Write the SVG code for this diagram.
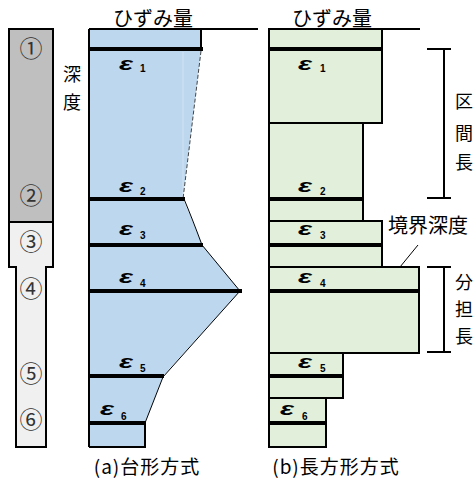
<svg xmlns="http://www.w3.org/2000/svg" width="473" height="478" viewBox="0 0 473 478">
<style>
.jp{font-family:"Noto Sans CJK JP","Noto Sans",sans-serif;fill:#000}
.eps{font-family:"Liberation Sans",Arial,sans-serif;font-weight:bold;font-style:italic;font-size:18px}
.sub{font-family:"Liberation Sans",Arial,sans-serif;font-weight:bold;font-size:10px}
.bar{stroke:#000;stroke-width:4;fill:none}
.edge{stroke:#000;stroke-width:2;fill:none}
.blue{fill:#bdd7ee}
.grn{fill:#e2efda;stroke:#000;stroke-width:2}
.thin{stroke:#000;stroke-width:1;fill:none}
.circ{font-family:"Noto Sans CJK JP",sans-serif;font-size:23px;fill:#333;text-anchor:middle}
</style>
<rect width="473" height="478" fill="#fff"/>

<!-- soil column -->
<g id="column">
  <polygon points="9,29 53,29 53,267 46,267 46,447 16,447 16,267 9,267" fill="#f0f0f0" stroke="#000" stroke-width="2"/>
  <rect x="9" y="29" width="44" height="193" fill="#bfbfbf" stroke="#000" stroke-width="2"/>
  <text class="circ" x="31" y="57">①</text>
  <text class="circ" x="31" y="204">②</text>
  <text class="circ" x="31" y="250">③</text>
  <text class="circ" x="31" y="297">④</text>
  <text class="circ" x="31" y="382">⑤</text>
  <text class="circ" x="31" y="428">⑥</text>
</g>

<!-- panel (a) -->
<g id="panel-a">
  <polygon class="blue" points="89,29 201,29 201,51 183,199 190,215 202,245 240,291 163,376 145,423 145,447 89,447"/>
  <line x1="183" y1="52" x2="183" y2="197" stroke="#d2e3f3" stroke-width="1"/>
  <line x1="89" y1="29" x2="258" y2="29" class="edge"/>
  <line x1="201" y1="29" x2="201" y2="49" class="edge"/>
  <line x1="89" y1="29" x2="89" y2="447" class="edge"/>
  <polyline points="89,447 145,447 145,423" class="edge"/>
  <line x1="201" y1="51" x2="183" y2="199" stroke="#444" stroke-width="1" stroke-dasharray="4,2"/>
  <path d="M184,199 Q192,218 202,245" class="thin"/>
  <polyline points="202,245 240,291 163,377 145,423" class="thin"/>
  <line x1="89" y1="49" x2="203" y2="49" class="bar"/>
  <line x1="89" y1="199" x2="185" y2="199" class="bar"/>
  <line x1="89" y1="245" x2="203" y2="245" class="bar"/>
  <line x1="89" y1="291" x2="242" y2="291" class="bar"/>
  <line x1="89" y1="376" x2="164" y2="376" class="bar"/>
  <line x1="89" y1="423" x2="146" y2="423" class="bar"/>
  <text class="jp" x="153" y="26" font-size="20" text-anchor="middle">ひずみ量</text>
  <text class="jp" x="72" y="81" font-size="18" text-anchor="middle">深</text>
  <text class="jp" x="72" y="109" font-size="18" text-anchor="middle">度</text>
  <text class="jp" x="147" y="474" font-size="19" letter-spacing="1" text-anchor="middle">(a)台形方式</text>
</g>

<!-- panel (b) -->
<g id="panel-b">
  <line x1="268" y1="29" x2="420" y2="29" class="edge"/>
  <rect class="grn" x="269" y="29" width="113" height="20"/>
  <rect class="grn" x="269" y="49" width="113" height="74"/>
  <rect class="grn" x="269" y="123" width="94" height="98"/>
  <rect class="grn" x="269" y="221" width="113" height="46"/>
  <rect class="grn" x="269" y="267" width="150" height="86"/>
  <rect class="grn" x="269" y="353" width="74" height="45"/>
  <rect class="grn" x="269" y="398" width="57" height="49"/>
  <line x1="268" y1="49" x2="383" y2="49" class="bar"/>
  <line x1="268" y1="199" x2="364" y2="199" class="bar"/>
  <line x1="268" y1="245" x2="383" y2="245" class="bar"/>
  <line x1="268" y1="291" x2="420" y2="291" class="bar"/>
  <line x1="268" y1="376" x2="344" y2="376" class="bar"/>
  <line x1="268" y1="423" x2="327" y2="423" class="bar"/>
  <text class="jp" x="332" y="26" font-size="20" text-anchor="middle">ひずみ量</text>
  <text class="jp" x="336" y="474" font-size="19" letter-spacing="1" text-anchor="middle">(b)長方形方式</text>
</g>

<!-- epsilon labels -->
<g id="labels-eps">
  <text class="eps" x="119" y="70" textLength="14" lengthAdjust="spacingAndGlyphs">ε</text><text class="sub" x="140" y="72">1</text>
  <text class="eps" x="119" y="192" textLength="14" lengthAdjust="spacingAndGlyphs">ε</text><text class="sub" x="140" y="195">2</text>
  <text class="eps" x="119" y="235" textLength="14" lengthAdjust="spacingAndGlyphs">ε</text><text class="sub" x="140" y="239">3</text>
  <text class="eps" x="119" y="283" textLength="14" lengthAdjust="spacingAndGlyphs">ε</text><text class="sub" x="140" y="287">4</text>
  <text class="eps" x="119" y="368" textLength="14" lengthAdjust="spacingAndGlyphs">ε</text><text class="sub" x="140" y="372">5</text>
  <text class="eps" x="100" y="415" textLength="14" lengthAdjust="spacingAndGlyphs">ε</text><text class="sub" x="121" y="420">6</text>

  <text class="eps" x="298" y="70" textLength="14" lengthAdjust="spacingAndGlyphs">ε</text><text class="sub" x="320" y="72">1</text>
  <text class="eps" x="298" y="192" textLength="14" lengthAdjust="spacingAndGlyphs">ε</text><text class="sub" x="320" y="195">2</text>
  <text class="eps" x="298" y="235" textLength="14" lengthAdjust="spacingAndGlyphs">ε</text><text class="sub" x="320" y="239">3</text>
  <text class="eps" x="298" y="283" textLength="14" lengthAdjust="spacingAndGlyphs">ε</text><text class="sub" x="320" y="287">4</text>
  <text class="eps" x="298" y="368" textLength="14" lengthAdjust="spacingAndGlyphs">ε</text><text class="sub" x="320" y="372">5</text>
  <text class="eps" x="280" y="415" textLength="14" lengthAdjust="spacingAndGlyphs">ε</text><text class="sub" x="302" y="420">6</text>
</g>

<!-- brackets and annotations -->
<g id="connectors">
  <line x1="418" y1="245" x2="400" y2="267" class="thin"/>
  <path d="M427,49 H451 M444,49 V198 M427,198 H451" class="edge"/>
  <path d="M427,267 H451 M444,267 V352 M427,352 H451" class="edge"/>
</g>
<g id="annot-kukan">
  <text class="jp" x="464" y="108" font-size="18" text-anchor="middle">区</text>
  <text class="jp" x="464" y="140" font-size="18" text-anchor="middle">間</text>
  <text class="jp" x="464" y="169" font-size="18" text-anchor="middle">長</text>
</g>
<g id="annot-buntan">
  <text class="jp" x="464" y="289" font-size="18" text-anchor="middle">分</text>
  <text class="jp" x="464" y="316" font-size="18" text-anchor="middle">担</text>
  <text class="jp" x="464" y="343" font-size="18" text-anchor="middle">長</text>
</g>
<g id="annot-kyokai">
  <text class="jp" x="428" y="233" font-size="20" text-anchor="middle">境界深度</text>
</g>
</svg>
